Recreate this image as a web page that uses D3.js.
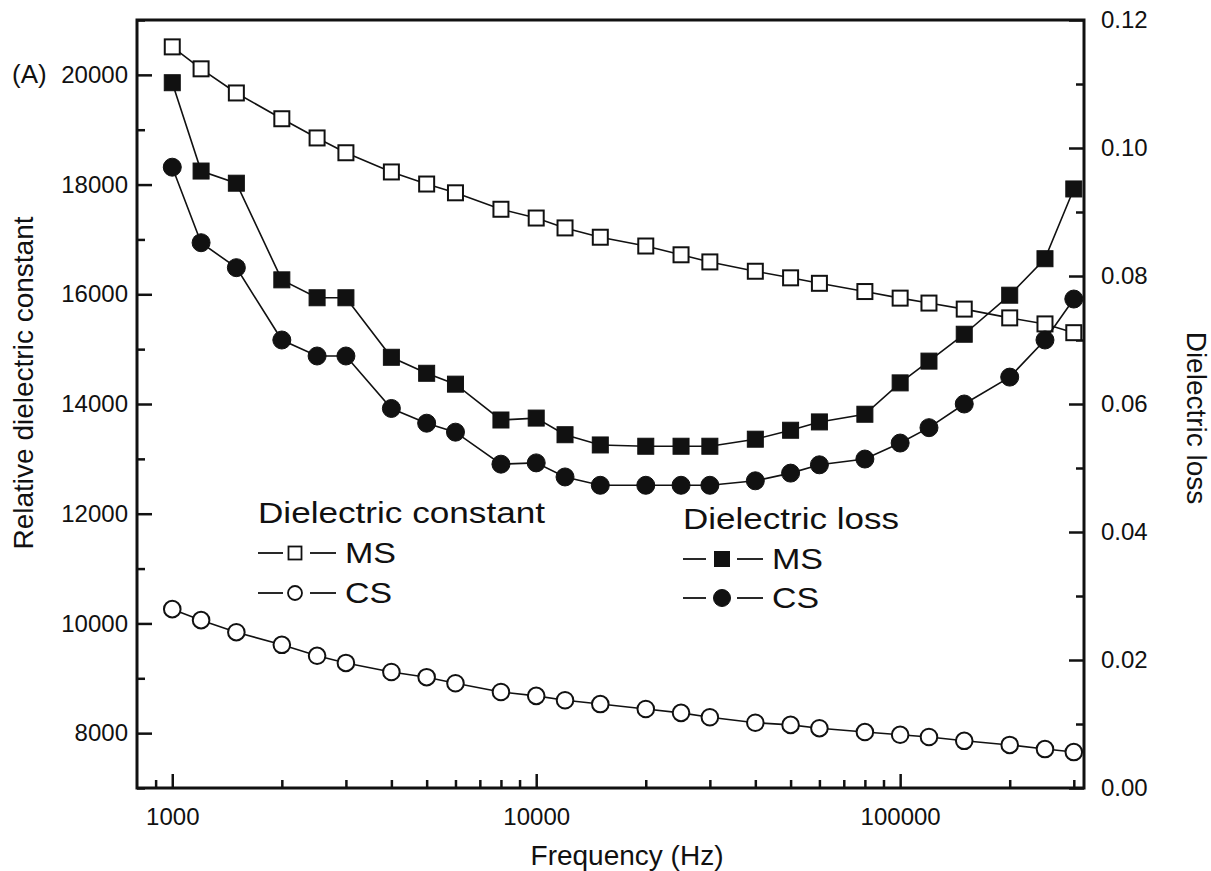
<!DOCTYPE html>
<html>
<head>
<meta charset="utf-8">
<script src="https://cdn.jsdelivr.net/npm/d3@7"></script>
<style>
  html, body { margin: 0; padding: 0; background: #fff; }
  svg { display: block; font-family: "Liberation Sans", Arial, Helvetica, sans-serif; }
</style>
</head>
<body>
<svg id="chart" width="1211" height="871"></svg>
<script>
// ---- data ----
const freq = [1000,1200,1500,2000,2500,3000,4000,5000,6000,8000,10000,12000,15000,20000,25000,30000,40000,50000,60000,80000,100000,120000,150000,200000,250000,300000];
const constMS = [20510,20110,19670,19200,18850,18580,18230,18010,17850,17550,17390,17210,17040,16880,16720,16590,16420,16300,16200,16050,15930,15840,15730,15570,15460,15300];
const constCS = [10260,10060,9840,9610,9410,9280,9115,9020,8910,8750,8680,8600,8530,8440,8370,8290,8190,8150,8090,8020,7970,7930,7860,7785,7710,7655];
const lossMS = [0.1102,0.0964,0.0945,0.0794,0.0766,0.0766,0.0673,0.0648,0.0631,0.0575,0.0578,0.0552,0.0536,0.0534,0.0534,0.0534,0.0545,0.0559,0.0572,0.0584,0.0633,0.0667,0.0709,0.0770,0.0827,0.0936];
const lossCS = [0.0970,0.0852,0.0813,0.0700,0.0675,0.0675,0.0593,0.0570,0.0556,0.0506,0.0508,0.0486,0.0473,0.0473,0.0473,0.0473,0.0480,0.0492,0.0505,0.0514,0.0539,0.0563,0.0600,0.0642,0.0700,0.0764];
const xMajor = [1000,10000,100000];
const xMinor = [900,2000,3000,4000,5000,6000,7000,8000,9000,20000,30000,40000,50000,60000,70000,80000,90000,200000,300000];
const yLMajor = [8000,10000,12000,14000,16000,18000,20000];
const yLMinor = [7000,9000,11000,13000,15000,17000,19000,21000];
const yRMajor = [0,0.02,0.04,0.06,0.08,0.10,0.12];
const yRMinor = [0.01,0.03,0.05,0.07,0.09,0.11];

// ---- layout ----
const L = 137, R = 1084, T = 20, B = 788;
const svg = d3.select("#chart");
svg.append("rect").attr("width",1211).attr("height",871).attr("fill","#fff");

const x = d3.scaleLog().domain([800, 320000]).range([L, R]);
const yL = d3.scaleLinear().domain([7000, 21000]).range([B, T]);
const yR = d3.scaleLinear().domain([0, 0.12]).range([B, T]);

const tickFont = 24, ink = "#111";

function styleAxis(g) {
  g.select(".domain").remove();
  g.selectAll(".tick line").attr("stroke", ink).attr("stroke-width", 2.5);
  g.selectAll("text").attr("font-size", tickFont).attr("fill", ink).attr("font-family", "Liberation Sans, Arial, sans-serif");
}

// bottom axis
svg.append("g").attr("transform", `translate(0,${B})`)
  .call(d3.axisBottom(x).tickValues(xMajor).tickFormat(d3.format("d")).tickSizeInner(-14).tickSizeOuter(0).tickPadding(20))
  .call(styleAxis);
svg.append("g").attr("transform", `translate(0,${B})`)
  .call(d3.axisBottom(x).tickValues(xMinor).tickFormat("").tickSizeInner(-8).tickSizeOuter(0))
  .call(styleAxis);

// left axis
svg.append("g").attr("transform", `translate(${L},0)`)
  .call(d3.axisLeft(yL).tickValues(yLMajor).tickFormat(d3.format("d")).tickSizeInner(-15).tickSizeOuter(0).tickPadding(9))
  .call(styleAxis);
svg.append("g").attr("transform", `translate(${L},0)`)
  .call(d3.axisLeft(yL).tickValues(yLMinor).tickFormat("").tickSizeInner(-8).tickSizeOuter(0))
  .call(styleAxis);

// right axis
svg.append("g").attr("transform", `translate(${R},0)`)
  .call(d3.axisRight(yR).tickValues(yRMajor).tickFormat(d3.format(".2f")).tickSizeInner(-15).tickSizeOuter(0).tickPadding(17))
  .call(styleAxis);
svg.append("g").attr("transform", `translate(${R},0)`)
  .call(d3.axisRight(yR).tickValues(yRMinor).tickFormat("").tickSizeInner(-8).tickSizeOuter(0))
  .call(styleAxis);

// frame
svg.append("rect").attr("x", L).attr("y", T).attr("width", R - L).attr("height", B - T)
  .attr("fill", "none").attr("stroke", ink).attr("stroke-width", 3);

// ---- series ----
function series(vals, yScale, shape, filled) {
  const pts = freq.map((f, i) => [x(f), yScale(vals[i])]);
  svg.append("path").attr("d", d3.line()(pts)).attr("fill", "none").attr("stroke", ink).attr("stroke-width", 1.6);
  const g = svg.append("g");
  pts.forEach(p => {
    if (shape === "square") {
      const s = filled ? 16 : 15;
      g.append("rect").attr("x", p[0] - s/2).attr("y", p[1] - s/2).attr("width", s).attr("height", s)
        .attr("fill", filled ? ink : "#fff").attr("stroke", ink).attr("stroke-width", filled ? 1 : 2);
    } else {
      g.append("circle").attr("cx", p[0]).attr("cy", p[1]).attr("r", filled ? 9 : 8.3)
        .attr("fill", filled ? ink : "#fff").attr("stroke", ink).attr("stroke-width", filled ? 1 : 2);
    }
  });
}
series(constMS, yL, "square", false);
series(constCS, yL, "circle", false);
series(lossMS, yR, "square", true);
series(lossCS, yR, "circle", true);

// ---- texts ----
svg.append("text").attr("x", 12).attr("y", 83).attr("font-size", 26).attr("fill", ink).text("(A)");
svg.append("text").attr("transform", "translate(33,383) rotate(-90)").attr("text-anchor", "middle")
  .attr("font-size", 28).attr("fill", ink).text("Relative dielectric constant");
svg.append("text").attr("transform", "translate(1187,418) rotate(90)").attr("text-anchor", "middle")
  .attr("font-size", 28).attr("fill", ink).text("Dielectric loss");
svg.append("text").attr("x", 627).attr("y", 865).attr("text-anchor", "middle")
  .attr("font-size", 28).attr("fill", ink).text("Frequency (Hz)");

// ---- legends ----
function legendTitle(xp, yp, txt, len) {
  svg.append("text").attr("x", xp).attr("y", yp).attr("font-size", 30).attr("fill", ink)
    .attr("textLength", len).attr("lengthAdjust", "spacingAndGlyphs").text(txt);
}
function legendRow(x0, cy, shape, filled, label, tlen, lineA, lineB, mx, tx, ms) {
  svg.append("line").attr("x1", x0).attr("x2", lineA).attr("y1", cy).attr("y2", cy).attr("stroke", ink).attr("stroke-width", 1.8);
  svg.append("line").attr("x1", lineB).attr("x2", tx - 9).attr("y1", cy).attr("y2", cy).attr("stroke", ink).attr("stroke-width", 1.8);
  if (shape === "square") {
    svg.append("rect").attr("x", mx - ms/2).attr("y", cy - ms/2).attr("width", ms).attr("height", ms)
      .attr("fill", filled ? ink : "#fff").attr("stroke", ink).attr("stroke-width", filled ? 1 : 1.8);
  } else {
    svg.append("circle").attr("cx", mx).attr("cy", cy).attr("r", ms/2)
      .attr("fill", filled ? ink : "#fff").attr("stroke", ink).attr("stroke-width", filled ? 1 : 1.8);
  }
  svg.append("text").attr("x", tx).attr("y", cy + 10).attr("font-size", 29).attr("fill", ink)
    .attr("textLength", tlen).attr("lengthAdjust", "spacingAndGlyphs").text(label);
}
legendTitle(258, 523, "Dielectric constant", 287);
legendRow(258, 553, "square", false, "MS", 51, 283, 310, 295, 345, 13);
legendRow(258, 593, "circle", false, "CS", 47, 283, 310, 295, 345, 14);
legendTitle(683, 529, "Dielectric loss", 216);
legendRow(683, 559, "square", true, "MS", 51, 706, 737, 722, 772, 15);
legendRow(683, 598, "circle", true, "CS", 47, 706, 737, 722, 772, 17);
</script>
</body>
</html>
